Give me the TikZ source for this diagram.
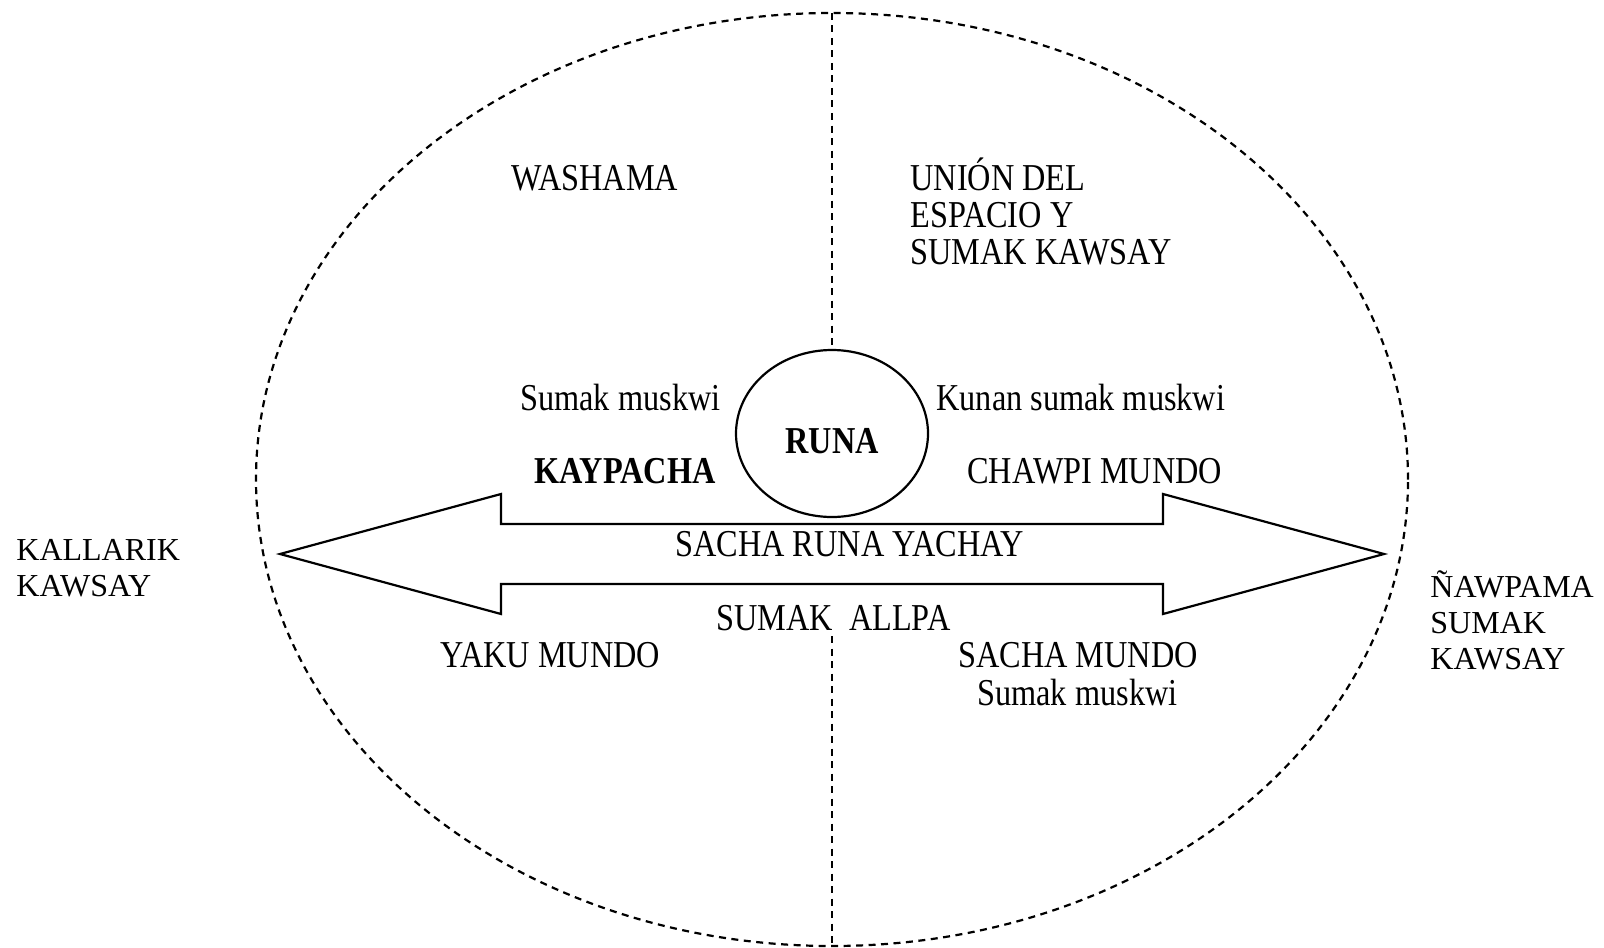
\documentclass[tikz,border=0pt]{standalone}
\usepackage{fontspec}
\setmainfont{Liberation Serif}
\newfontfamily\condfont[FakeStretch=0.85]{Liberation Serif}
\usetikzlibrary{shapes.geometric}
\tikzset{
  dashline/.style={line width=1.1pt, dash pattern=on 3.5pt off 2.75pt},
  solidline/.style={line width=1.1pt},
  midtext/.style={inner sep=0pt, anchor=base west, font=\condfont\fontsize{19}{22}\selectfont},
  midbold/.style={midtext, font=\condfont\bfseries\fontsize{19}{22}\selectfont},
  sidetext/.style={inner sep=0pt, anchor=base west, font=\fontsize{16}{18}\selectfont},
}
\begin{document}
\begin{tikzpicture}[x=0.5pt,y=-0.5pt]
\useasboundingbox (0,0) rectangle (1604,947);
% outer dashed ellipse
\node[ellipse, draw, dashline, minimum width=576pt, minimum height=466.5pt, inner sep=0pt, outer sep=0pt] (outer) at (832,479.5) {};
% central circle
\node[ellipse, draw, solidline, minimum width=96pt, minimum height=83.5pt, inner sep=0pt, outer sep=0pt] (runa) at (832,433.5) {};
\node[midbold, anchor=base] (runatext) at (832,453) {RUNA};
% vertical dashed lines
\draw[dashline] (outer.north) -- (runa.north);
\coordinate (lowstart) at (832,636);
\draw[dashline] (lowstart) -- (outer.south);
% double arrow
\draw[solidline, line join=miter] (280,554) -- (501,494) -- (501,524) -- (1163,524) -- (1163,494) -- (1384,554) -- (1163,614) -- (1163,584) -- (501,584) -- (501,614) -- cycle;
% texts
\node[midtext] (washama) at (511,190) {WASHAMA};
\node[midtext] (union1) at (910,190) {UNIÓN DEL};
\node[midtext] (union2) at (910,227) {ESPACIO Y};
\node[midtext] (union3) at (910,264) {SUMAK KAWSAY};
\node[midtext] (sumak1) at (520,410) {Sumak muskwi};
\node[midtext] (kunan) at (936,410) {Kunan sumak muskwi};
\node[midbold] (kaypacha) at (534,483) {KAYPACHA};
\node[midtext] (chawpi) at (967,483) {CHAWPI MUNDO};
\node[midtext] (sacharuna) at (675,556) {SACHA RUNA YACHAY};
\node[midtext] (allpa) at (716,630) {SUMAK\ \ ALLPA};
\node[midtext] (yaku) at (440,667) {YAKU MUNDO};
\node[midtext] (sachamundo) at (958,667) {SACHA MUNDO};
\node[midtext] (sumak2) at (977,705) {Sumak muskwi};
\node[sidetext] (kallarik1) at (16,560) {KALLARIK};
\node[sidetext] (kallarik2) at (16,596) {KAWSAY};
\node[sidetext] (nawpama1) at (1430,597) {ÑAWPAMA};
\node[sidetext] (nawpama2) at (1430,633) {SUMAK};
\node[sidetext] (nawpama3) at (1430,669) {KAWSAY};
\end{tikzpicture}
\end{document}
